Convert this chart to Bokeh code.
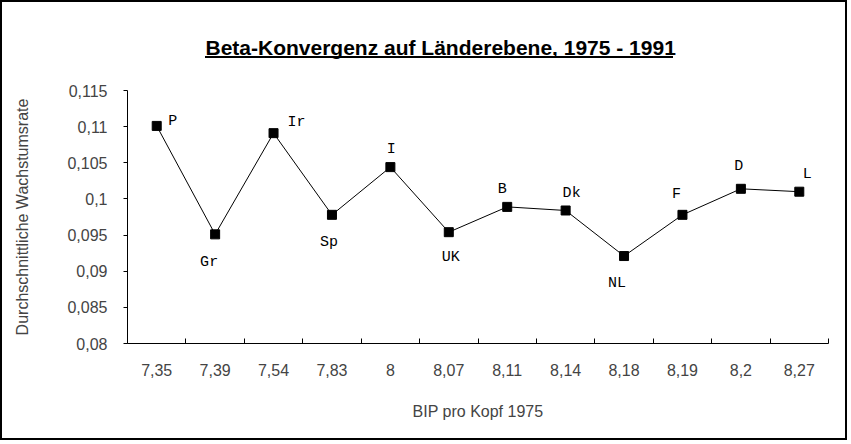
import numpy as np
from bokeh.plotting import figure
from bokeh.models import (ColumnDataSource, FixedTicker, CustomJSTickFormatter,
                          Range1d, Title, InlineStyleSheet)
from bokeh.core.properties import value
from bokeh.embed import file_html
from bokeh.resources import INLINE

# ---- data ----
gdp_labels = ["7,35", "7,39", "7,54", "7,83", "8", "8,07",
              "8,11", "8,14", "8,18", "8,19", "8,2", "8,27"]
countries = ["P", "Gr", "Ir", "Sp", "I", "UK", "B", "Dk", "NL", "F", "D", "L"]
growth = [0.1101, 0.0951, 0.1091, 0.0978, 0.1044, 0.0954,
          0.0989, 0.0984, 0.0921, 0.0978, 0.1014, 0.1010]
y_ticks = [0.08, 0.085, 0.09, 0.095, 0.1, 0.105, 0.11, 0.115]

# label placement (style, px)
label_dx = [16, -6, 23, -3, 1, 2, -5, 6, -7, -6, -2, 8]
label_dy = [-4, 28, -11, 28, -18, 25, -17, -17, 27, -20, -22, -17]

n = len(growth)
xpos = np.arange(n) + 0.5
src = ColumnDataSource(dict(x=xpos, y=growth, name=countries,
                            dx=label_dx, dy=label_dy))

p = figure(width=847, height=440, output_backend="svg", toolbar_location=None,
           x_range=Range1d(0, n), y_range=Range1d(y_ticks[0], y_ticks[-1]),
           min_border_left=125, min_border_right=21,
           min_border_top=88, min_border_bottom=99)
p.outline_line_color = None
p.grid.visible = False
p.background_fill_color = "white"
p.border_fill_color = "white"
p.styles = {"border": "2px solid black", "box-sizing": "border-box",
            "position": "relative"}
# underline of the title (pure decoration)
p.stylesheets = [InlineStyleSheet(css="""
:host::after {
  content: '';
  position: absolute;
  left: 203px;
  top: 54px;
  width: 468px;
  height: 2px;
  background: black;
}
""")]

p.line("x", "y", source=src, line_color="black", line_width=1)
p.scatter("x", "y", source=src, marker="square", size=9,
          fill_color="black", line_color="black")
p.text("x", "y", text="name", source=src, x_offset="dx", y_offset="dy",
       text_font=value("Liberation Mono"), text_font_size="15px",
       text_align="center", text_baseline="middle", text_color="black")

# x axis
xa = p.xaxis[0]
xa.ticker = FixedTicker(ticks=list(xpos), minor_ticks=list(np.arange(n + 1)))
xa.formatter = CustomJSTickFormatter(args=dict(labels=gdp_labels),
                                     code="return labels[Math.floor(tick)];")
xa.major_tick_in = 0
xa.major_tick_out = 0
xa.minor_tick_in = 5
xa.minor_tick_out = 0
xa.major_label_standoff = 20
xa.major_label_text_font = "Liberation Sans"
xa.major_label_text_font_size = "16px"
xa.axis_label = "BIP pro Kopf 1975"
xa.axis_label_text_font = "Liberation Sans"
xa.axis_label_text_font_size = "16px"
xa.axis_label_text_font_style = "normal"
xa.axis_label_standoff = 24

# y axis
ya = p.yaxis[0]
ya.ticker = FixedTicker(ticks=y_ticks)
ya.formatter = CustomJSTickFormatter(
    code="return parseFloat(tick.toFixed(3)).toString().replace('.', ',');")
ya.major_tick_in = 0
ya.major_tick_out = 4
ya.minor_tick_line_color = None
ya.major_label_standoff = 16
ya.major_label_text_font = "Liberation Sans"
ya.major_label_text_font_size = "16px"
ya.axis_label = "Durchschnittliche Wachstumsrate"
ya.axis_label_text_font = "Liberation Sans"
ya.axis_label_text_font_size = "16px"
ya.axis_label_text_font_style = "normal"
ya.axis_label_standoff = 33

# title
p.add_layout(Title(text="Beta-Konvergenz auf Länderebene, 1975 - 1991",
                   text_font="Liberation Sans", text_font_style="bold",
                   text_font_size="21px", align="left", offset=78,
                   standoff=63, text_color="black"), "above")

open("out.html", "w").write(file_html(p, INLINE))
